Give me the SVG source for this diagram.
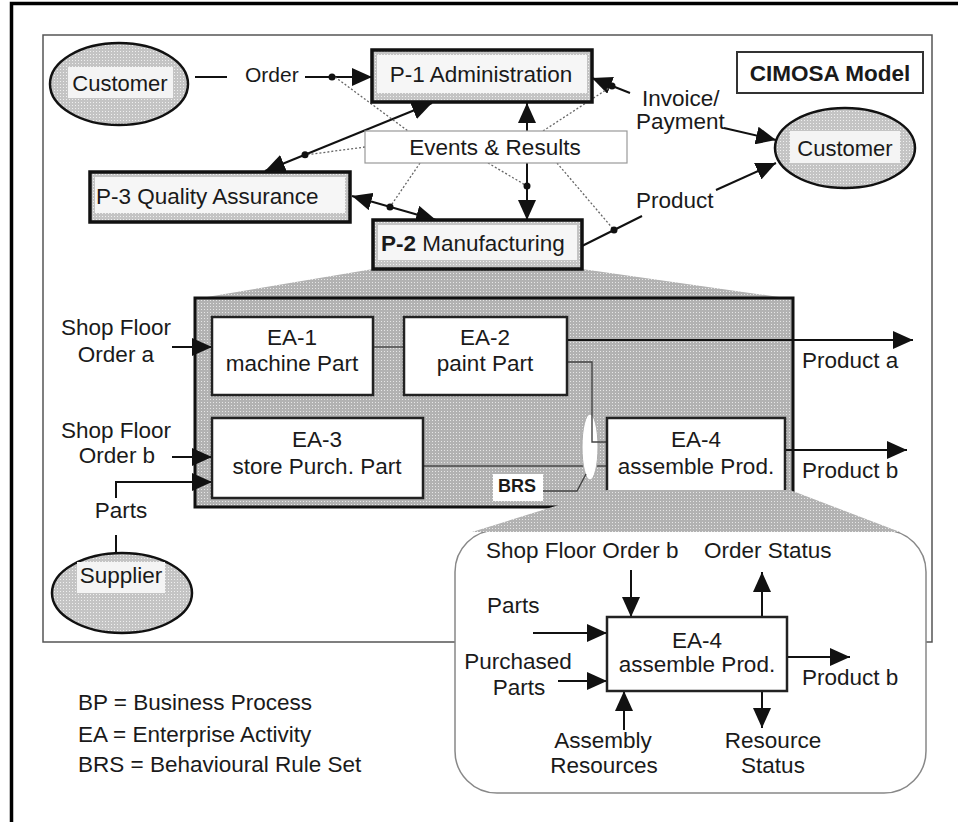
<svg xmlns="http://www.w3.org/2000/svg" width="958" height="822" viewBox="0 0 958 822">
<defs>
<style>
text{font-family:"Liberation Sans",Arial,sans-serif;font-size:22.5px;fill:#1a1a1a}
.c{text-anchor:middle}
.b{font-weight:bold}
.proc{fill:url(#ht2);stroke:#111;stroke-width:3.5}
.procin{fill:#f6f6f6}
.ea{fill:#fff;stroke:#222;stroke-width:2.5}
.ell{fill:url(#ht2);stroke:#111;stroke-width:2.5}
.lbl{fill:#f4f4f4}
.ln{stroke:#111;stroke-width:2;fill:none}
.ar{marker-end:url(#ah)}
.ar2{marker-start:url(#ah);marker-end:url(#ah)}
.dl{stroke:#666;stroke-width:1.3;stroke-dasharray:2 2;fill:none}
.thin{stroke:#444;stroke-width:1.4;fill:none}
.pt{fill:#111}
</style>
<pattern id="ht" width="3" height="3" patternUnits="userSpaceOnUse">
<rect width="3" height="3" fill="#b2b2b2"/><rect width="1" height="1" fill="#e6e6e6"/>
</pattern>
<pattern id="ht2" width="3" height="3" patternUnits="userSpaceOnUse">
<rect width="3" height="3" fill="#c4c4c4"/><rect width="1" height="1" fill="#efefef"/>
</pattern>
<marker id="ah" viewBox="0 0 20 18" refX="20" refY="9" markerWidth="20" markerHeight="18" markerUnits="userSpaceOnUse" orient="auto-start-reverse">
<path d="M0,0L20,9L0,18z" fill="#111"/>
</marker>
</defs>
<rect width="958" height="822" fill="#fff"/>
<path d="M11.5,822V3.5H958" fill="none" stroke="#000" stroke-width="3.5"/>
<rect x="43" y="35" width="889" height="607" fill="none" stroke="#555" stroke-width="1.5"/>

<g id="expansion1">
<polygon points="373,269 582,269 793,299 195,299" fill="url(#ht)"/>
</g>
<g id="P-2-detail">
<rect x="195" y="298" width="598" height="209" fill="url(#ht)" stroke="#111" stroke-width="3"/>
</g>

<g id="connectors">
<line class="ln" x1="195" y1="77" x2="227" y2="77"/>
<line class="ln ar" x1="305" y1="77" x2="372" y2="77"/>
<line class="ln ar2" x1="265" y1="171" x2="432" y2="103"/>
<line class="ln ar2" x1="352" y1="196" x2="436" y2="220"/>
<line class="ln ar2" x1="527" y1="103" x2="527" y2="220"/>
<line class="ln ar" x1="630" y1="93" x2="592" y2="78"/>
<line class="ln ar" x1="724" y1="128" x2="776" y2="140"/>
<line class="ln" x1="582" y1="246" x2="642" y2="216"/>
<line class="ln ar" x1="716" y1="190" x2="776" y2="163"/>
<line class="dl" x1="335" y1="77" x2="408" y2="131"/>
<line class="dl" x1="365" y1="147" x2="305" y2="155"/>
<line class="dl" x1="420" y1="163" x2="390" y2="207"/>
<line class="dl" x1="488" y1="163" x2="527" y2="186"/>
<line class="dl" x1="557" y1="163" x2="614" y2="230"/>
<line class="dl" x1="543" y1="131" x2="612" y2="86"/>
<circle class="pt" cx="332" cy="77" r="3.5"/>
<circle class="pt" cx="305" cy="154.7" r="3.5"/>
<circle class="pt" cx="390" cy="206.9" r="3.5"/>
<circle class="pt" cx="527" cy="186" r="3.5"/>
<circle class="pt" cx="612" cy="85.9" r="3.5"/>
<circle class="pt" cx="614" cy="230" r="3.5"/>
<line class="thin" x1="373" y1="347" x2="404" y2="347"/>
<line class="thin" x1="423" y1="466" x2="607" y2="466"/>
<ellipse cx="590" cy="447" rx="8" ry="33" fill="#fff" stroke="#aaa" stroke-width="1"/>
<polyline class="thin" stroke="#777" points="567,362 592,362 592,442 607,442"/>
<polyline class="thin" points="537,491 577,491 586,474"/>
<line class="ln ar" x1="567" y1="340" x2="913" y2="340"/>
<line class="ln ar" x1="785" y1="450" x2="907" y2="450"/>
<line class="ln ar" x1="172" y1="347" x2="212" y2="347"/>
<line class="ln ar" x1="172" y1="457" x2="212" y2="457"/>
<polyline class="ln ar" stroke-width="3" points="116,498 116,482 212,482"/>
<line class="ln" stroke-width="3" x1="116" y1="535" x2="116" y2="554"/>
</g>

<g id="customer-left">
<ellipse class="ell" cx="119" cy="84" rx="69" ry="41"/>
<rect class="lbl" x="68" y="67" width="105" height="31"/>
<text class="c" x="120" y="91" style="font-size:22px">Customer</text>
</g>
<g id="order-label"><text x="245" y="82" style="font-size:21px">Order</text></g>

<g id="P-1">
<rect class="proc" x="372" y="50" width="220" height="52"/>
<rect class="procin" x="377" y="55" width="210" height="38"/>
<text class="c" x="481" y="82">P-1 Administration</text>
</g>
<g id="P-3">
<rect class="proc" x="90" y="172" width="260" height="50"/>
<rect class="procin" x="95" y="177" width="250" height="36"/>
<text x="96" y="204">P-3 Quality Assurance</text>
</g>
<g id="P-2">
<rect class="proc" x="373" y="220" width="209" height="49"/>
<rect class="procin" x="378" y="225" width="199" height="35"/>
<text x="381" y="251"><tspan class="b">P-2</tspan> Manufacturing</text>
</g>
<g id="events">
<rect x="365" y="131" width="262" height="32" fill="#fff" stroke="#999" stroke-width="1.2"/>
<text class="c" x="495" y="155">Events &amp; Results</text>
</g>
<g id="cimosa">
<rect x="737" y="52" width="186" height="41" fill="#fff" stroke="#333" stroke-width="2"/>
<text class="c b" x="830" y="81">CIMOSA Model</text>
</g>
<g id="customer-right">
<ellipse class="ell" cx="845" cy="148" rx="70" ry="40"/>
<rect class="lbl" x="790" y="131" width="110" height="32"/>
<text class="c" x="845" y="156" style="font-size:22px">Customer</text>
</g>
<g id="invoice-label">
<text x="642" y="106">Invoice/</text>
<text x="636" y="129">Payment</text>
</g>
<g id="product-label"><text x="636" y="208">Product</text></g>

<g id="EA-1">
<rect class="ea" x="212" y="317" width="161" height="78"/>
<text class="c" x="292" y="345">EA-1</text>
<text class="c" x="292" y="371">machine Part</text>
</g>
<g id="EA-2">
<rect class="ea" x="404" y="317" width="163" height="78"/>
<text class="c" x="485" y="345">EA-2</text>
<text class="c" x="485" y="371">paint Part</text>
</g>
<g id="EA-3">
<rect class="ea" x="212" y="418" width="211" height="80"/>
<text class="c" x="317" y="447">EA-3</text>
<text class="c" x="317" y="474">store Purch. Part</text>
</g>
<g id="EA-4">
<rect class="ea" x="607" y="418" width="178" height="80"/>
<text class="c" x="696" y="447">EA-4</text>
<text class="c" x="696" y="474">assemble Prod.</text>
</g>
<g id="BRS">
<rect x="493" y="474" width="50" height="27" fill="#fff"/>
<text class="c b" x="517" y="492" style="font-size:18px">BRS</text>
</g>
<g id="left-labels">
<text class="c" x="116" y="335">Shop Floor</text>
<text class="c" x="116" y="362">Order a</text>
<text class="c" x="116" y="438">Shop Floor</text>
<text class="c" x="117" y="463">Order b</text>
<text class="c" x="121" y="518">Parts</text>
</g>
<g id="product-labels">
<text x="802" y="368">Product a</text>
<text x="802" y="478">Product b</text>
</g>
<g id="supplier">
<ellipse class="ell" cx="122" cy="593" rx="70" ry="40"/>
<rect class="lbl" x="77" y="562" width="88" height="31"/>
<text class="c" x="121" y="583">Supplier</text>
</g>

<g id="detail-box">
<rect x="455" y="530" width="471" height="263" rx="42" fill="#fff" stroke="#888" stroke-width="1.5"/>
</g>
<g id="expansion2">
<polygon points="607,490 790,490 900,532 472,532" fill="url(#ht)"/>
</g>
<g id="detail-connectors">
<line class="ln ar" x1="631" y1="570" x2="631" y2="617"/>
<line class="ln ar" x1="762" y1="617" x2="762" y2="572"/>
<line class="ln ar" x1="533" y1="633" x2="607" y2="633"/>
<line class="ln ar" x1="558" y1="681" x2="607" y2="681"/>
<line class="ln ar" x1="624" y1="730" x2="624" y2="691"/>
<line class="ln ar" x1="762" y1="691" x2="762" y2="728"/>
<line class="ln ar" x1="787" y1="657" x2="850" y2="657"/>
</g>
<g id="EA-4-detail">
<rect class="ea" x="607" y="617" width="180" height="74" stroke-width="3"/>
<text class="c" x="697" y="648">EA-4</text>
<text class="c" x="697" y="672">assemble Prod.</text>
</g>
<g id="detail-labels">
<text x="486" y="558">Shop Floor Order b</text>
<text x="704" y="558">Order Status</text>
<text x="487" y="613">Parts</text>
<text class="c" x="518" y="669">Purchased</text>
<text class="c" x="519" y="695">Parts</text>
<text class="c" x="603" y="748">Assembly</text>
<text class="c" x="604" y="773">Resources</text>
<text class="c" x="773" y="748">Resource</text>
<text class="c" x="773" y="773">Status</text>
<text x="802" y="685">Product b</text>
</g>
<g id="legend">
<text x="78" y="710">BP = Business Process</text>
<text x="78" y="742">EA = Enterprise Activity</text>
<text x="78" y="772">BRS = Behavioural Rule Set</text>
</g>
</svg>
